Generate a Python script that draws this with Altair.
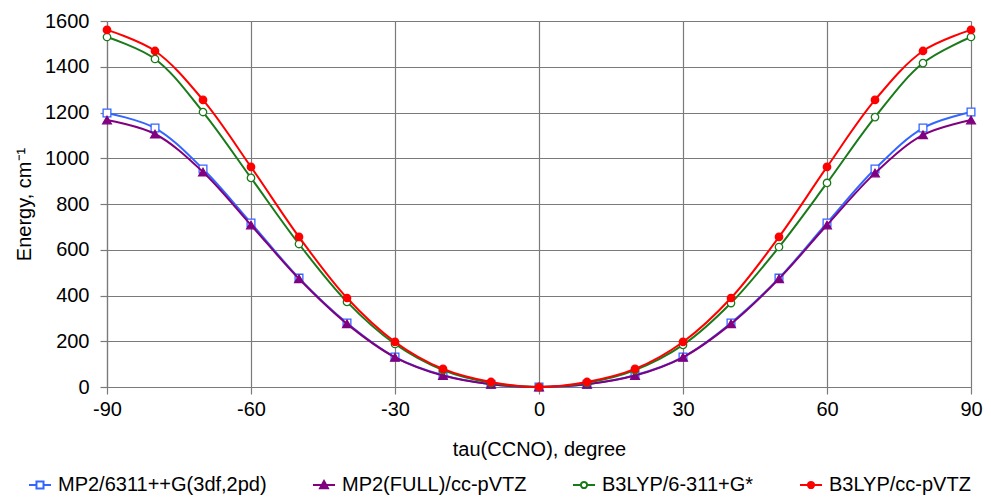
import altair as alt
import pandas as pd

tau = [-90, -80, -70, -60, -50, -40, -30, -20, -10, 0, 10, 20, 30, 40, 50, 60, 70, 80, 90]

mp2_6311 = [1198, 1132, 953, 717, 476, 280, 131, 52, 12, 0, 12, 52, 131, 280, 476, 717, 953, 1132, 1202]
mp2_full = [1167, 1106, 940, 708, 473, 276, 130, 50, 12, 0, 12, 50, 130, 276, 473, 708, 935, 1102, 1167]
b3lyp_6311 = [1530, 1434, 1202, 914, 625, 372, 188, 74, 18, 0, 18, 74, 184, 367, 612, 892, 1180, 1416, 1530]
b3lyp_cc = [1561, 1469, 1255, 962, 656, 389, 197, 79, 22, 0, 22, 79, 197, 389, 656, 962, 1255, 1469, 1561]

series_names = ["MP2/6311++G(3df,2pd)", "MP2(FULL)/cc-pVTZ", "B3LYP/6-311+G*", "B3LYP/cc-pVTZ"]
series_values = [mp2_6311, mp2_full, b3lyp_6311, b3lyp_cc]
series_colors = ["#3366FF", "#800080", "#1A7A1A", "#FF0000"]
marker_shapes = ["square", "triangle-up", "circle", "circle"]
marker_fills = ["white", "#800080", "white", "#FF0000"]
marker_sizes = [60, 75, 55, 55]

legend_paths = [
    "M-1,0H-0.32M0.32,0H1M-0.32,-0.32H0.32V0.32H-0.32Z",
    "M-1,0H1M0,-0.36L0.36,0.3H-0.36Z",
    "M-1,0H-0.28M0.28,0H1M0.28,0A0.28,0.28 0 1,1 -0.28,0A0.28,0.28 0 1,1 0.28,0Z",
    "M-1,0H1M0.28,0A0.28,0.28 0 1,1 -0.28,0A0.28,0.28 0 1,1 0.28,0Z",
]

FONT = "Liberation Sans"
GRID = "#7a7a7a"

x_enc = alt.X(
    "tau:Q",
    scale=alt.Scale(domain=[-90, 90], nice=False, zero=False),
    axis=alt.Axis(
        values=[-90, -60, -30, 0, 30, 60, 90],
        labelExpr="'' + datum.value",
        labelFlush=False,
        title="tau(CCNO), degree",
        labelFontSize=20,
        titleFontSize=20,
        labelFont=FONT,
        titleFont=FONT,
        titleFontWeight="normal",
        labelColor="black",
        titleColor="black",
        grid=True,
        gridColor=GRID,
        gridWidth=1.2,
        gridOpacity=1,
        domainColor=GRID,
        domainWidth=1.2,
        tickColor=GRID,
        tickWidth=1.2,
        tickSize=7,
        labelPadding=5,
        titlePadding=20,
    ),
)
y_enc = alt.Y(
    "energy:Q",
    scale=alt.Scale(domain=[0, 1600], nice=False),
    axis=alt.Axis(
        values=list(range(0, 1601, 200)),
        labelExpr="'' + datum.value",
        labelFlush=False,
        title="Energy, cm⁻¹",
        labelFontSize=20,
        titleFontSize=20,
        labelFont=FONT,
        titleFont=FONT,
        titleFontWeight="normal",
        labelColor="black",
        titleColor="black",
        grid=True,
        gridColor=GRID,
        gridWidth=1.2,
        gridOpacity=1,
        domainColor=GRID,
        domainWidth=1.2,
        tickColor=GRID,
        tickWidth=1.2,
        tickSize=7,
        labelPadding=11,
        titlePadding=10,
    ),
)

layers = []
for name, vals, col, shp, fil, sz in zip(series_names, series_values, series_colors,
                                        marker_shapes, marker_fills, marker_sizes):
    df = pd.DataFrame({"tau": tau, "energy": vals, "series": name})
    base = alt.Chart(df)
    layers.append(base.mark_line(interpolate="catmull-rom", strokeWidth=2, color=col).encode(x=x_enc, y=y_enc))
    layers.append(base.mark_point(shape=shp, filled=True, fill=fil, stroke=col, strokeWidth=1.3,
                                  size=sz, opacity=1).encode(x=x_enc, y=y_enc))

legend = alt.Legend(
    orient="none",
    legendX=-79,
    legendY=452,
    direction="horizontal",
    columns=4,
    title=None,
    labelFontSize=20,
    labelFont=FONT,
    labelColor="black",
    labelLimit=0,
    symbolSize=484,
    symbolStrokeWidth=2,
    columnPadding=42,
    labelOffset=6,
    padding=0,
)

legend_df = pd.DataFrame({"series": series_names})
legend_layer = alt.Chart(legend_df).mark_point(size=484, strokeWidth=2, opacity=1).encode(
    color=alt.Color("series:N", scale=alt.Scale(domain=series_names, range=series_colors), sort=None, legend=legend),
    fill=alt.Fill("series:N", scale=alt.Scale(domain=series_names, range=marker_fills), sort=None, legend=legend),
    shape=alt.Shape("series:N", scale=alt.Scale(domain=series_names, range=legend_paths), sort=None, legend=legend),
).transform_filter("false")

chart = alt.layer(*layers, legend_layer).properties(
    width=864,
    height=366,
    padding={"left": 99, "top": 13, "right": 12, "bottom": 109},
    autosize=alt.AutoSizeParams(type="none"),
    background="white",
).configure_view(strokeWidth=0)

chart.save("out.html", embed_options={"renderer": "svg", "actions": False})
